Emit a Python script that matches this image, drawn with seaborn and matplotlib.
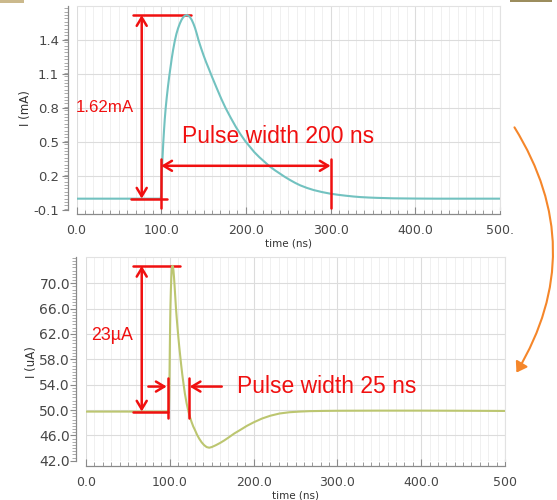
import matplotlib
matplotlib.use("Agg")
import matplotlib.pyplot as plt
from matplotlib.ticker import MultipleLocator, FixedLocator
from matplotlib.patches import FancyArrowPatch, Rectangle
import pandas as pd
import seaborn as sns

# ---- waveform samples -------------------------------------------------------
# input pulse (mA)
t_in = [0, 50, 99.5, 100, 100.5, 101, 101.8, 102.5, 103.3, 104.2, 105.3, 106.5,
        108, 109.5, 111, 112.5, 114, 116, 118, 120, 122, 124, 126, 128, 130, 132,
        134, 136, 138, 140, 142, 144, 147, 150, 153, 156, 160, 165, 171, 176, 182,
        188, 193, 199, 205, 210, 216, 222, 228, 234, 240, 246, 252, 258, 264, 272,
        280, 290, 299, 309, 318, 327, 335, 345, 355, 365, 374, 387, 400, 425, 450,
        500]
i_in = [0.0, 0.0, 0.0, 0.05, 0.17, 0.28, 0.40, 0.50, 0.60, 0.70, 0.80, 0.89,
        0.99, 1.08, 1.16, 1.24, 1.31, 1.39, 1.455, 1.505, 1.545, 1.578, 1.601,
        1.615, 1.62, 1.615, 1.601, 1.578, 1.545, 1.505, 1.455, 1.40, 1.33, 1.265,
        1.205, 1.15, 1.075, 0.985, 0.88, 0.80, 0.715, 0.635, 0.575, 0.51, 0.455,
        0.41, 0.365, 0.325, 0.285, 0.252, 0.222, 0.192, 0.165, 0.14, 0.118,
        0.095, 0.076, 0.058, 0.045, 0.034, 0.026, 0.019, 0.014, 0.010, 0.007,
        0.005, 0.003, 0.002, 0.001, 0.0, 0.0, 0.0]

# output pulse (uA)
t_out = [0, 50, 98.5, 99, 99.3, 99.6, 100, 100.4, 100.8, 101.3, 101.8, 102.3,
         102.8, 103.3, 103.8, 104.4, 105, 105.7, 106.5, 107.3, 108.2, 109.2,
         110.2, 111.2, 112.3, 113.5, 115, 116.5, 118, 120, 122, 124, 126, 128, 130,
         132.5, 135, 138, 141, 144, 147, 150, 155, 160, 165, 170, 177, 184, 192,
         200, 210, 220, 231, 243, 255, 267, 285, 300, 350, 400, 450, 500]
i_out = [49.75, 49.75, 49.75, 50.3, 52.0, 55.0, 59.5, 63.5, 66.5, 69.0, 70.8,
         72.0, 72.6, 72.75, 72.6, 72.0, 71.0, 69.6, 67.9, 66.2, 64.6, 63.0, 61.5,
         60.1, 58.7, 57.2, 55.5, 54.0, 52.6, 51.1, 49.9, 48.9, 48.1, 47.4, 46.85,
         46.1, 45.5, 44.9, 44.45, 44.15, 44.05, 44.15, 44.45, 44.8, 45.2, 45.65,
         46.3, 46.85, 47.5, 48.05, 48.65, 49.1, 49.45, 49.65, 49.75, 49.82, 49.86,
         49.88, 49.9, 49.9, 49.88, 49.85]

x_ticks = [0, 100, 200, 300, 400, 500]
x_ticklabels_top = ["0.0", "100.0", "200.0", "300.0", "400.0", "500."]
x_ticklabels_bot = ["0.0", "100.0", "200.0", "300.0", "400.0", "500"]
y_ticks_top = [-0.1, 0.2, 0.5, 0.8, 1.1, 1.4]
y_ticks_bot = [42, 46, 50, 54, 58, 62, 66, 70]

peak_in = 1.62
peak_out = 23.0
base_out = 49.75

df_in = pd.DataFrame({"time (ns)": t_in, "I (mA)": i_in})
df_out = pd.DataFrame({"time (ns)": t_out, "I (uA)": i_out})

sns.set_theme(style="white")
plt.rcParams["font.family"] = ["DejaVu Sans"]

W, H = 557, 500
fig = plt.figure(figsize=(W / 100, H / 100), dpi=100)


def px_axes(left, top, right, bottom):
    return fig.add_axes([left / W, 1 - bottom / H, (right - left) / W, (bottom - top) / H])


ax1 = px_axes(76.5, 6, 500, 210)
ax2 = px_axes(86, 257.3, 505, 460.7)

RED = "#f01010"
TICK_C = "#474747"


def style_axes(ax, yticks, ylabels, yminor, xlabels, left_out, bottom_out,
               ysize, ypad):
    ax.set_xlim(0, 500)
    ax.xaxis.set_major_locator(FixedLocator(x_ticks))
    ax.set_xticklabels(xlabels)
    ax.xaxis.set_minor_locator(MultipleLocator(10))
    ax.yaxis.set_major_locator(FixedLocator(yticks))
    ax.set_yticklabels(ylabels)
    ax.yaxis.set_minor_locator(MultipleLocator(yminor))
    ax.grid(which="major", color="#dcdcdc", linewidth=0.8)
    ax.grid(which="minor", axis="x", color="#eeeeee", linewidth=0.6)
    ax.set_axisbelow(True)
    for s in ("top", "right"):
        ax.spines[s].set_color("#e2e2e2")
        ax.spines[s].set_linewidth(0.8)
    for s in ("left", "bottom"):
        ax.spines[s].set_color("#8a8a8a")
        ax.spines[s].set_linewidth(0.9)
    ax.spines["left"].set_position(("outward", left_out))
    ax.spines["bottom"].set_position(("outward", bottom_out))
    ax.tick_params(axis="x", which="major", direction="in", length=5, width=0.8,
                   color="#8a8a8a", labelsize=9, labelcolor=TICK_C, pad=7, bottom=True)
    ax.tick_params(axis="x", which="minor", direction="in", length=3, width=0.6,
                   color="#8a8a8a", bottom=True)
    ax.tick_params(axis="y", which="major", direction="out", length=4, width=0.8,
                   color="#8a8a8a", labelsize=ysize, labelcolor=TICK_C, pad=ypad,
                   left=True)
    ax.tick_params(axis="y", which="minor", direction="out", length=3, width=0.5,
                   color="#8a8a8a", left=True)
    ax.xaxis.label.set_size(7.5)
    ax.yaxis.label.set_size(8.5)
    ax.xaxis.label.set_color("#333333")
    ax.yaxis.label.set_color("#333333")
    ax.xaxis.labelpad = 1


# ---- top panel --------------------------------------------------------------
sns.lineplot(data=df_in, x="time (ns)", y="I (mA)", ax=ax1, color="#72c2c0",
             linewidth=1.5, zorder=3)
ax1.set_ylim(-0.1, 1.70)
style_axes(ax1, y_ticks_top, [f"{v:.1f}" for v in y_ticks_top], 0.03,
           x_ticklabels_top, 6, 3, 9.5, 2.5)
ax1.yaxis.set_label_coords(-0.104, 0.5)

lw = 1.8
arr = dict(arrowstyle="<->,head_length=0.5,head_width=0.3", color=RED, lw=lw,
           shrinkA=0, shrinkB=0)
ax1.annotate("", xy=(77, peak_in), xytext=(77, 0.0), arrowprops=arr, annotation_clip=False)
ax1.plot([66.4, 135.2], [peak_in, peak_in], color=RED, lw=lw, clip_on=False, zorder=2)
ax1.plot([64.3, 106.5], [-0.006, -0.006], color=RED, lw=lw, clip_on=False, zorder=4)
ax1.plot([100, 100], [0.353, -0.079], color=RED, lw=lw, clip_on=False, zorder=4)
ax1.plot([300, 300], [0.353, -0.079], color=RED, lw=lw, clip_on=False, zorder=4)
ax1.annotate("", xy=(100, 0.29), xytext=(300, 0.29), arrowprops=arr, annotation_clip=False)
ax1.text(33.7, 0.80, f"{peak_in:.2f}mA", color=RED, fontsize=12.2,
         family="Liberation Sans", ha="center", va="center")
ax1.text(124.2, 0.55, "Pulse width 200 ns", color=RED, fontsize=16.5,
         family="Liberation Sans", ha="left", va="center")

# ---- bottom panel -----------------------------------------------------------
sns.lineplot(data=df_out, x="time (ns)", y="I (uA)", ax=ax2, color="#bcc670",
             linewidth=1.5, zorder=3)
ax2.set_ylim(42.0, 74.1)
style_axes(ax2, y_ticks_bot, [f"{v:.1f}" for v in y_ticks_bot], 0.5,
           x_ticklabels_bot, 7, 4, 10, 0.5)
ax2.yaxis.set_label_coords(-0.115, 0.483)

top_out = base_out + peak_out
ax2.annotate("", xy=(66.5, top_out), xytext=(66.5, base_out), arrowprops=arr,
             annotation_clip=False)
ax2.plot([56.4, 112], [top_out, top_out], color=RED, lw=lw, clip_on=False, zorder=2)
ax2.plot([56.4, 97.5], [base_out, base_out], color=RED, lw=lw, clip_on=False, zorder=4)
ax2.plot([97.5, 97.5], [55.0, 48.8], color=RED, lw=lw, clip_on=False, zorder=4)
ax2.plot([122.5, 122.5], [55.0, 48.8], color=RED, lw=lw, clip_on=False, zorder=4)
one = dict(arrowstyle="->,head_length=0.5,head_width=0.3", color=RED, lw=lw,
           shrinkA=0, shrinkB=0)
ax2.annotate("", xy=(96.3, 53.7), xytext=(74.4, 53.7), arrowprops=one)
ax2.annotate("", xy=(123.7, 53.7), xytext=(162, 53.7), arrowprops=one)
ax2.text(30.7, 61.7, "23µA", color=RED, fontsize=12.8,
         family="Liberation Sans", ha="center", va="center")
ax2.text(179.9, 53.7, "Pulse width 25 ns", color=RED, fontsize=16.5,
         family="Liberation Sans", ha="left", va="center")

# ---- connector arrow between the panels -------------------------------------
conn = FancyArrowPatch((513 / W, 1 - 125 / H), (515 / W, 1 - 375 / H),
                       transform=fig.transFigure,
                       connectionstyle="arc3,rad=-0.31",
                       arrowstyle="-|>,head_length=6,head_width=4",
                       color="#f5862a", lw=1.5)
fig.patches.append(conn)

# thin strips along the top edge
fig.patches.append(Rectangle((0, 1 - 3 / H), 24 / W, 3 / H, transform=fig.transFigure,
                             color="#cbb98c", lw=0))
fig.patches.append(Rectangle((510 / W, 1 - 2 / H), 42 / W, 2 / H, transform=fig.transFigure,
                             color="#9c8d5e", lw=0))

fig.savefig("out.png", dpi=100)
